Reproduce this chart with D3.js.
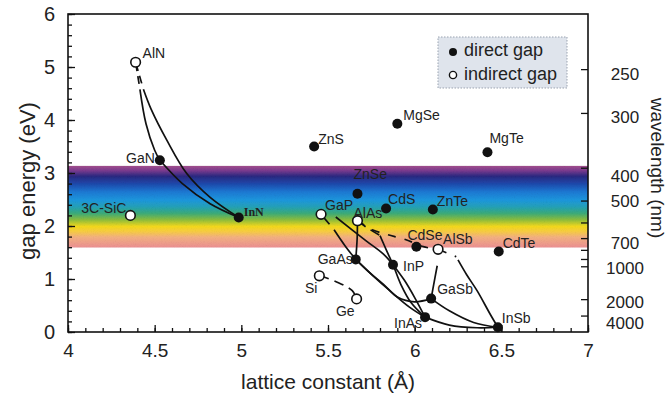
<!DOCTYPE html>
<html>
<head>
<meta charset="utf-8">
<script src="https://cdn.jsdelivr.net/npm/d3@7"></script>
<style>
  body { margin: 0; background: #fff; }
  svg { font-family: "Liberation Sans", Arial, Helvetica, sans-serif; }
</style>
</head>
<body>
<div id="chart"></div>
<script>
// semiconductor compounds: lattice constant (Å) and band gap (eV)
const compounds = ["AlN", "GaN", "InN", "3C-SiC", "ZnS", "MgSe", "MgTe", "ZnSe", "CdS", "ZnTe", "GaP",
  "AlAs", "CdSe", "AlSb", "CdTe", "GaAs", "InP", "Si", "Ge", "GaSb", "InAs", "InSb"];
const latticeConst = [4.39, 4.53, 4.985, 4.36, 5.42, 5.90, 6.42, 5.67, 5.835, 6.105, 5.46,
  5.67, 6.01, 6.135, 6.485, 5.66, 5.875, 5.45, 5.665, 6.095, 6.06, 6.48];
const gapEnergy = [5.09, 3.24, 2.16, 2.20, 3.50, 3.93, 3.39, 2.61, 2.33, 2.31, 2.22,
  2.10, 1.61, 1.56, 1.52, 1.37, 1.27, 1.06, 0.625, 0.63, 0.28, 0.09];
const directGap = [false, true, true, false, true, true, true, true, true, true, false,
  false, true, false, true, true, true, false, false, true, true, true];

// axis ticks
const gapTicks = [0, 1, 2, 3, 4, 5, 6];
const latticeTicks = [4, 4.5, 5, 5.5, 6, 6.5, 7];
const wavelengthTicks = [250, 300, 400, 500, 600, 700, 800, 900, 1000, 2000, 4000];
const wavelengthLabels = [250, 300, 400, 500, 700, 1000, 2000, 4000];
const visibleBand = [395, 780]; // nm

// alloy lines, [lattice, gap]
const alnGanDash = [[4.39, 5.09], [4.415, 4.58]];
const alnGanLine = [[4.415, 4.58], [4.45, 3.93], [4.50, 3.43], [4.53, 3.24]];
const alnInnDash = [[4.39, 5.09], [4.435, 4.58]];
const alnInnLine = [[4.435, 4.58], [4.48, 4.20], [4.57, 3.62], [4.685, 2.99], [4.82, 2.54], [4.985, 2.16]];
const ganInnLine = [[4.53, 3.24], [4.66, 2.80], [4.82, 2.42], [4.985, 2.16]];
const gapGaasDash = [[5.46, 2.22], [5.535, 1.93]];
const gapGaasLine = [[5.535, 1.93], [5.60, 1.62], [5.66, 1.37]];
const alasGaasLine = [[5.67, 2.10], [5.668, 1.75], [5.66, 1.37]];
const gapInpLine = [[5.545, 2.17], [5.72, 1.72], [5.82, 1.47], [5.875, 1.27]];
const alasInasDash = [[5.67, 2.10], [5.72, 1.98], [5.80, 1.82]];
const alasInasLine = [[5.80, 1.82], [5.84, 1.52], [5.875, 1.27], [5.92, 0.90], [5.98, 0.55], [6.06, 0.28]];
const alasAlsbDash = [[5.67, 2.10], [5.755, 1.93], [5.84, 1.84], [5.95, 1.74], [6.05, 1.61], [6.135, 1.56]];
const gaasInasLine = [[5.66, 1.37], [5.76, 1.06], [5.86, 0.77], [5.97, 0.47], [6.06, 0.28]];
const gaasGasbLine = [[5.66, 1.37], [5.74, 1.12], [5.82, 0.90], [5.90, 0.66], [6.00, 0.57], [6.095, 0.63]];
const inpInasLine = [[5.875, 1.27], [5.94, 0.98], [6.00, 0.65], [6.06, 0.28]];
const alsbGasbLine = [[6.13, 1.25], [6.11, 0.90], [6.095, 0.63]];
const alsbInsbDash = [[6.135, 1.56], [6.24, 1.42]];
const alsbInsbLine = [[6.25, 1.36], [6.30, 1.08], [6.36, 0.78], [6.435, 0.34], [6.48, 0.09]];
const gasbInsbLine = [[6.095, 0.63], [6.20, 0.40], [6.34, 0.18], [6.48, 0.09]];
const inasInsbLine = [[6.06, 0.28], [6.20, 0.13], [6.36, 0.08], [6.48, 0.09]];
const siGeDash = [[5.45, 1.07], [5.56, 0.93], [5.64, 0.78], [5.665, 0.625]];

const solidCurves = [alnGanLine, alnInnLine, ganInnLine, gapGaasLine, alasGaasLine, gapInpLine, alasInasLine,
  gaasInasLine, gaasGasbLine, inpInasLine, alsbGasbLine, alsbInsbLine, gasbInsbLine, inasInsbLine];
const dashedCurves = [alnGanDash, alnInnDash, gapGaasDash, alasInasDash, alasAlsbDash, alsbInsbDash, siGeDash];
const dashPatterns = ["9,5,8,30", "9,5,8,30", "13,30", "10,6", "8,9", "9,9,2,20", "10,6"];

// label placement (px offset from the point)
const labelPos = {
  "AlN": [7, -4, "start"], "GaN": [-5, 3, "end"], "InN": [5, -2, "start"], "3C-SiC": [-4, -2, "end"],
  "ZnS": [4, -3, "start"], "MgSe": [6, -4, "start"], "MgTe": [2, -9, "start"], "ZnSe": [-4, -15, "start"],
  "CdS": [2, -5, "start"], "ZnTe": [4, -4, "start"], "GaP": [4, -4, "start"], "AlAs": [-4, -3, "start"],
  "CdSe": [-9, -7, "start"], "AlSb": [5, -5, "start"], "CdTe": [4, -3, "start"], "GaAs": [-3, 5, "end"],
  "InP": [10, 6, "start"], "Si": [-2, 17, "end"], "Ge": [-2, 17, "end"], "GaSb": [6, -5, "start"],
  "InAs": [-3, 11, "end"], "InSb": [4, -4, "start"]
};
// vertical nudge of the wavelength labels, px
const wlShift = {250: 5, 300: 4, 400: 8, 500: 0, 700: 5, 1000: 2, 2000: 3, 4000: 7};

const W = 670, H = 396;
const margin = {top: 14, right: 82, bottom: 64, left: 68};

const svg = d3.select("#chart").append("svg")
  .attr("width", W)
  .attr("height", H);

const x = d3.scaleLinear().domain([4, 7]).range([margin.left, W - margin.right]);
const y = d3.scaleLinear().domain([0, 6]).range([H - margin.bottom, margin.top]);

const defs = svg.append("defs");

// visible spectrum band
const grad = defs.append("linearGradient")
  .attr("id", "spectrum")
  .attr("x1", 0).attr("y1", 0).attr("x2", 0).attr("y2", 1);
[[0, "#a4508c"], [0.06, "#7a3a8e"], [0.13, "#2a2880"], [0.22, "#1f48aa"], [0.32, "#1c78d2"],
 [0.42, "#1e96dc"], [0.50, "#22a0b8"], [0.58, "#3aaa7a"], [0.66, "#8cbc3c"], [0.74, "#f2d81c"],
 [0.80, "#f6cc40"], [0.87, "#f2b080"], [1, "#ea8e92"]].forEach(s => {
  grad.append("stop").attr("offset", s[0]).attr("stop-color", s[1]);
});

// grainy look of the printed band
const grain = defs.append("filter").attr("id", "grain")
  .attr("x", 0).attr("y", 0).attr("width", 1).attr("height", 1);
grain.append("feTurbulence").attr("type", "fractalNoise").attr("baseFrequency", 0.9)
  .attr("numOctaves", 2).attr("seed", 4).attr("result", "noise");
grain.append("feColorMatrix").attr("in", "noise").attr("type", "saturate").attr("values", 0).attr("result", "mono");
const ct = grain.append("feComponentTransfer").attr("in", "mono").attr("result", "soft");
["feFuncR", "feFuncG", "feFuncB"].forEach(f => ct.append(f).attr("type", "linear").attr("slope", 0.4).attr("intercept", 0.78));
grain.append("feBlend").attr("in", "SourceGraphic").attr("in2", "soft").attr("mode", "multiply").attr("result", "mix");
grain.append("feComposite").attr("in", "mix").attr("in2", "SourceGraphic").attr("operator", "in");

svg.append("rect")
  .attr("x", x(4))
  .attr("width", x(7) - x(4))
  .attr("y", y(1240 / visibleBand[0]))
  .attr("height", y(1240 / visibleBand[1]) - y(1240 / visibleBand[0]))
  .attr("fill", "url(#spectrum)")
  .attr("filter", "url(#grain)");

// axes
const gLeft = svg.append("g").attr("transform", "translate(" + margin.left + ",0)");
gLeft.call(d3.axisLeft(y).tickValues(d3.range(0, 6.001, 0.2)).tickSize(-4).tickFormat(""));
gLeft.append("g").call(d3.axisLeft(y).tickValues(gapTicks).tickSize(-7).tickPadding(13).tickFormat(d => d));

const gBottom = svg.append("g").attr("transform", "translate(0," + y(0) + ")");
gBottom.call(d3.axisBottom(x).tickValues(d3.range(4, 7.001, 0.1)).tickSize(-4).tickFormat(""));
gBottom.append("g").call(d3.axisBottom(x).tickValues(latticeTicks).tickSize(-7).tickPadding(12).tickFormat(d => String(d)));

const gRight = svg.append("g").attr("transform", "translate(" + x(7) + ",0)");
gRight.call(d3.axisRight(y)
  .tickValues(wavelengthTicks.map(w => 1240 / w))
  .tickSize(-7)
  .tickPadding(37)
  .tickFormat((d, i) => wavelengthLabels.includes(wavelengthTicks[i]) ? wavelengthTicks[i] : ""));

svg.selectAll(".domain").remove();
svg.selectAll(".tick line").attr("stroke", "#111").attr("stroke-width", 1.3);
gLeft.selectAll("text").attr("font-size", 20).attr("fill", "#222");
gBottom.selectAll("text").attr("font-size", 19).attr("fill", "#222");
gRight.selectAll(".tick text")
  .attr("font-size", 17)
  .attr("fill", "#222")
  .attr("text-anchor", "middle")
  .attr("y", function() { return wlShift[this.textContent] || 0; });

svg.append("rect")
  .attr("x", x(4)).attr("y", y(6))
  .attr("width", x(7) - x(4)).attr("height", y(0) - y(6))
  .attr("fill", "none").attr("stroke", "#111").attr("stroke-width", 1.6);

// titles
svg.append("text")
  .attr("transform", "translate(27,181) rotate(-90)")
  .attr("text-anchor", "middle").attr("dy", "0.35em")
  .attr("font-size", 22).attr("fill", "#222")
  .text("gap energy (eV)");
svg.append("text")
  .attr("x", (x(4) + x(7)) / 2).attr("y", 389)
  .attr("text-anchor", "middle")
  .attr("font-size", 21).attr("fill", "#222")
  .text("lattice constant (Å)");
svg.append("text")
  .attr("transform", "translate(658,168) rotate(90)")
  .attr("text-anchor", "middle").attr("dy", "0.35em")
  .attr("font-size", 19).attr("fill", "#222")
  .text("wavelength (nm)");

// alloy curves
const line = d3.line()
  .x(d => x(d[0]))
  .y(d => y(d[1]))
  .curve(d3.curveCatmullRom.alpha(0.5));

svg.append("g").selectAll("path")
  .data(solidCurves)
  .enter().append("path")
    .attr("d", line)
    .attr("fill", "none")
    .attr("stroke", "#111")
    .attr("stroke-width", 1.7);

svg.append("g").selectAll("path")
  .data(dashedCurves)
  .enter().append("path")
    .attr("d", line)
    .attr("fill", "none")
    .attr("stroke", "#111")
    .attr("stroke-width", 1.7)
    .attr("stroke-dasharray", (d, i) => dashPatterns[i]);

// points
const points = compounds.map((name, i) => ({name: name, a: latticeConst[i], e: gapEnergy[i], direct: directGap[i]}));

svg.append("g").selectAll("circle")
  .data(points)
  .enter().append("circle")
    .attr("cx", d => x(d.a))
    .attr("cy", d => y(d.e))
    .attr("r", d => d.direct ? 5 : 4.8)
    .attr("fill", d => d.direct ? "#111" : "#fff")
    .attr("stroke", "#111")
    .attr("stroke-width", d => d.direct ? 0 : 1.6);

svg.append("g").selectAll("text")
  .data(points)
  .enter().append("text")
    .attr("x", d => x(d.a) + labelPos[d.name][0])
    .attr("y", d => y(d.e) + labelPos[d.name][1])
    .attr("text-anchor", d => labelPos[d.name][2])
    .attr("font-size", d => d.name === "InN" ? 12 : 14)
    .attr("font-family", d => d.name === "InN" ? "'Liberation Serif', 'Times New Roman', serif" : null)
    .attr("font-weight", d => d.name === "InN" ? "bold" : null)
    .attr("fill", "#222")
    .text(d => d.name);

// legend
const legend = svg.append("g").attr("transform", "translate(438,37)");
legend.append("rect")
  .attr("width", 129).attr("height", 51)
  .attr("fill", "#dfe4ec")
  .attr("stroke", "#9aa3b0")
  .attr("stroke-dasharray", "1.5,1.5");
legend.append("circle").attr("cx", 15).attr("cy", 15).attr("r", 4).attr("fill", "#111");
legend.append("circle").attr("cx", 15).attr("cy", 38).attr("r", 3.6).attr("fill", "#fff")
  .attr("stroke", "#111").attr("stroke-width", 1.4);
legend.append("text").attr("x", 26).attr("y", 19).attr("font-size", 18).attr("fill", "#222").text("direct gap");
legend.append("text").attr("x", 26).attr("y", 43).attr("font-size", 18).attr("fill", "#222").text("indirect gap");
</script>
</body>
</html>
